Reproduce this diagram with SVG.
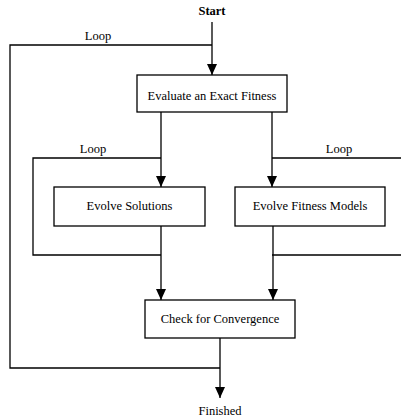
<svg xmlns="http://www.w3.org/2000/svg" width="401" height="420" viewBox="0 0 401 420">
<style>
.box{fill:#fff;stroke:#000;stroke-width:1.3}
.ln{fill:none;stroke:#000;stroke-width:1.3}
text{font-size:12.5px;fill:#000;text-anchor:middle}
</style>
<defs>
<marker id="ah" markerWidth="11" markerHeight="10" refX="11" refY="5" orient="auto" markerUnits="userSpaceOnUse" viewBox="0 0 11 10">
<path d="M0,0 L11,5 L0,10 Z" fill="#000"/>
</marker>
</defs>
<rect width="401" height="420" fill="#fff"/>
<g font-family="'Liberation Serif', 'Times New Roman', 'DejaVu Serif', serif">
<g id="connectors">
<path class="ln" d="M212,22 V75" marker-end="url(#ah)"/>
<path class="ln" d="M212,45 H10 V368 H220"/>
<path class="ln" d="M161,112 V187" marker-end="url(#ah)"/>
<path class="ln" d="M161,158 H33 V255 H161"/>
<path class="ln" d="M272,112 V187" marker-end="url(#ah)"/>
<path class="ln" d="M272,158 H401 M272,255 H401"/>
<path class="ln" d="M161,226 V300" marker-end="url(#ah)"/>
<path class="ln" d="M273,226 V300" marker-end="url(#ah)"/>
<path class="ln" d="M220,338 V398" marker-end="url(#ah)"/>
<text x="98" y="40">Loop</text>
<text x="93" y="153">Loop</text>
<text x="339" y="153">Loop</text>
</g>
<g id="start"><text x="212" y="15" font-weight="bold">Start</text></g>
<g id="evaluate">
<rect class="box" x="137" y="75" width="150" height="37"/>
<text x="212" y="100">Evaluate an Exact Fitness</text>
</g>
<g id="evolve-solutions">
<rect class="box" x="54" y="187" width="151" height="39"/>
<text x="129.5" y="210">Evolve Solutions</text>
</g>
<g id="evolve-fitness">
<rect class="box" x="235" y="187" width="150" height="39"/>
<text x="310" y="210">Evolve Fitness Models</text>
</g>
<g id="check">
<rect class="box" x="145" y="300" width="150" height="38"/>
<text x="220" y="323">Check for Convergence</text>
</g>
<g id="finished"><text x="220" y="415">Finished</text></g>
</g>
</svg>
